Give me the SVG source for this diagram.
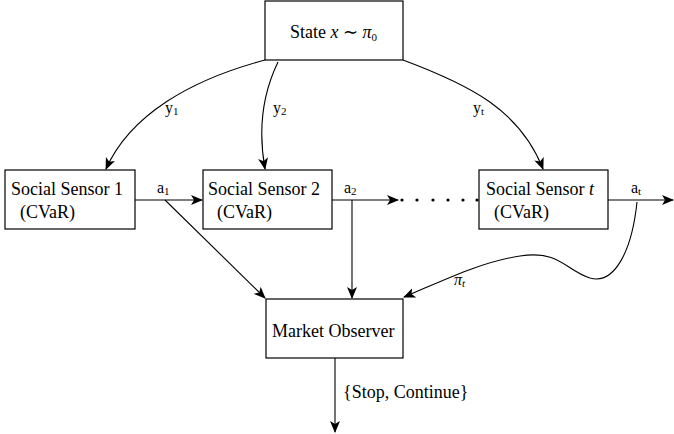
<svg xmlns="http://www.w3.org/2000/svg" width="674" height="434" viewBox="0 0 674 434">
<defs>
<marker id="ah" viewBox="0 0 12 10" refX="11" refY="5" markerWidth="12" markerHeight="10" markerUnits="userSpaceOnUse" orient="auto">
<path d="M0,0 L12,5 L0,10 L3,5 Z" fill="#000"/>
</marker>
</defs>
<style>
.box{fill:#fff;stroke:#000;stroke-width:1.2}
.ln{fill:none;stroke:#000;stroke-width:1.1}
text{font-family:"Liberation Serif","Times New Roman",serif;font-size:18px;fill:#000}
.sm{font-size:16px}
.sub{font-size:11px}
</style>
<rect width="674" height="434" fill="#fff"/>
<g id="connectors">
<path class="ln" d="M265,60 C190,80 130,115 106,169" marker-end="url(#ah)"/>
<path class="ln" d="M278,62 C262,95 258,130 265,169" marker-end="url(#ah)"/>
<path class="ln" d="M403,60 C470,85 520,110 543,169" marker-end="url(#ah)"/>
<path class="ln" d="M135,200 L202,200" marker-end="url(#ah)"/>
<path class="ln" d="M332,200 L398,200" marker-end="url(#ah)"/>
<path class="ln" d="M608,200 L673,200" marker-end="url(#ah)"/>
<path class="ln" d="M165,200 L265,298" marker-end="url(#ah)"/>
<path class="ln" d="M352,200 L352,298" marker-end="url(#ah)"/>
<path class="ln" d="M637,202 C632,250 615,285 590,278 C565,270 560,250 520,256 C480,262 440,282 404,297" marker-end="url(#ah)"/>
<path class="ln" d="M335,358 L335,432" marker-end="url(#ah)"/>
<g fill="#000">
<circle cx="402" cy="200" r="1.6"/>
<circle cx="417" cy="200" r="1.6"/>
<circle cx="433" cy="200" r="1.6"/>
<circle cx="448" cy="200" r="1.6"/>
<circle cx="463" cy="200" r="1.6"/>
<circle cx="477" cy="200" r="1.6"/>
</g>
<text x="165" y="113" class="sm">y<tspan class="sub" dy="2">1</tspan></text>
<text x="273" y="113" class="sm">y<tspan class="sub" dy="2">2</tspan></text>
<text x="473" y="113" class="sm">y<tspan class="sub" dy="2">t</tspan></text>
<text x="157" y="193" class="sm">a<tspan class="sub" dy="2">1</tspan></text>
<text x="344" y="193" class="sm">a<tspan class="sub" dy="2">2</tspan></text>
<text x="631" y="193" class="sm">a<tspan class="sub" dy="2">t</tspan></text>
<text x="454" y="285" class="sm" font-style="italic">π<tspan class="sub" dy="2">t</tspan></text>
<text x="343" y="398">{Stop, Continue}</text>
</g>
<g id="state">
<rect class="box" x="265" y="1" width="138" height="59"/>
<text x="290" y="38">State <tspan font-style="italic">x</tspan> ∼ <tspan font-style="italic">π</tspan><tspan class="sub" dy="3">0</tspan></text>
</g>
<g id="sensor1">
<rect class="box" x="5" y="170" width="130" height="59"/>
<text x="11" y="195">Social Sensor 1</text>
<text x="20" y="218">(CVaR)</text>
</g>
<g id="sensor2">
<rect class="box" x="203" y="170" width="129" height="59"/>
<text x="208" y="195">Social Sensor 2</text>
<text x="217" y="218">(CVaR)</text>
</g>
<g id="sensort">
<rect class="box" x="479" y="170" width="129" height="59"/>
<text x="486" y="195">Social Sensor <tspan font-style="italic">t</tspan></text>
<text x="494" y="218">(CVaR)</text>
</g>
<g id="market">
<rect class="box" x="266" y="299" width="137" height="59"/>
<text x="272" y="337">Market Observer</text>
</g>
</svg>
